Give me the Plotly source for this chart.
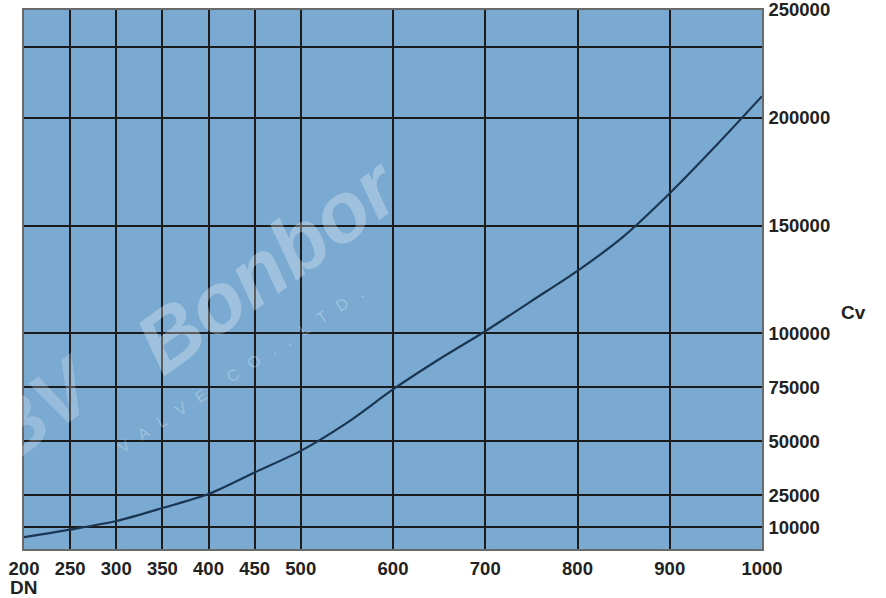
import plotly.graph_objects as go

# Data
dn = [200, 250, 300, 350, 400, 450, 500, 550, 600, 650, 700, 750, 800, 850, 900, 950, 1000]
cv = [5500, 9000, 13000, 19000, 25500, 35500, 45500, 58500, 74000, 88000, 101000, 115000,
      129000, 145000, 165000, 187000, 210000]

x_ticks = [200, 250, 300, 350, 400, 450, 500, 600, 700, 800, 900, 1000]
x_labels = [str(v) for v in x_ticks]
y_ticks = [10000, 25000, 50000, 75000, 100000, 150000, 200000, 233000, 250000]
y_labels = ["10000", "25000", "50000", "75000", "100000", "150000", "200000", "", "250000"]

FONT = "Liberation Sans, Arial, sans-serif"

fig = go.Figure()
fig.add_trace(go.Scatter(
    x=dn, y=cv, mode="lines",
    line=dict(color="#1b3652", width=2.2, shape="spline", smoothing=0.8),
    hoverinfo="x+y", showlegend=False,
))

fig.update_layout(
    width=886, height=598,
    margin=dict(l=24, r=124, t=10, b=49),
    paper_bgcolor="white",
    plot_bgcolor="#7aaad1",
    showlegend=False,
    font=dict(family=FONT, size=18.5, color="#222222"),
)

fig.update_xaxes(
    range=[200, 1000], tickmode="array", tickvals=x_ticks, ticktext=x_labels,
    showgrid=True, gridcolor="#1c1c1c", gridwidth=2,
    showline=True, linecolor="#6a6a6a", linewidth=1.5, mirror=True,
    zeroline=False, ticks="", ticklabelstandoff=2, automargin=False,
    ticklabeloverflow="allow",
    tickfont=dict(family=FONT, size=18.5, color="#222222", weight="bold"),
)
fig.update_yaxes(
    range=[0, 250000], side="right", tickmode="array", tickvals=y_ticks, ticktext=y_labels,
    showgrid=True, gridcolor="#1c1c1c", gridwidth=2,
    showline=True, linecolor="#6a6a6a", linewidth=1.5, mirror=True,
    zeroline=False, ticks="", ticklabelstandoff=1, automargin=False,
    ticklabeloverflow="allow",
    tickfont=dict(family=FONT, size=18.5, color="#222222", weight="bold"),
)

# Axis titles
fig.add_annotation(text="<b>DN</b>", xref="paper", yref="paper", x=-0.022, y=-0.071,
                   xanchor="left", yanchor="middle", showarrow=False,
                   font=dict(family=FONT, size=19, color="#222222"))
fig.add_annotation(text="<b>Cv</b>", xref="paper", yref="paper", x=1.104, y=0.439,
                   xanchor="left", yanchor="middle", showarrow=False,
                   font=dict(family=FONT, size=19, color="#222222"))

# Faint watermark
wm = "rgba(255,255,255,0.28)"
fig.add_annotation(text="<b><i>Bonbor</i></b>", xref="paper", yref="paper",
                   x=0.331, y=0.527, xanchor="center", yanchor="middle",
                   showarrow=False, textangle=-36,
                   font=dict(family=FONT, size=84, color=wm))
fig.add_annotation(text="V   A   L   V   E      C   O   .   ,   L   T   D   .", xref="paper", yref="paper",
                   x=0.293, y=0.332, xanchor="center", yanchor="middle",
                   showarrow=False, textangle=-33,
                   font=dict(family=FONT, size=16, color=wm))
fig.add_annotation(text="<b><i>BV</i></b>", xref="paper", yref="paper",
                   x=0.022, y=0.258, xanchor="center", yanchor="middle",
                   showarrow=False, textangle=-36,
                   font=dict(family=FONT, size=80, color="rgba(255,255,255,0.22)"))

# remove the default page margin so the figure sits at the window's top-left corner
fig.write_html("out.html", config={"displayModeBar": False},
               post_script="document.body.style.margin='0';")
